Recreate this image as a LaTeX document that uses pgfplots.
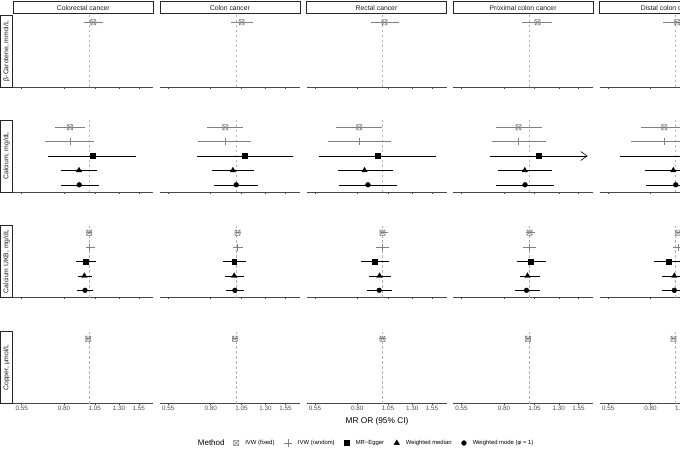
\documentclass[border=0pt]{standalone}
\usepackage{fontspec}
\setmainfont{Liberation Sans}
\usepackage{pgfplots}
\pgfplotsset{compat=1.18}
\usetikzlibrary{arrows.meta}
\definecolor{ivw}{HTML}{808080}
\definecolor{tickgray}{HTML}{4D4D4D}
\definecolor{stripgray}{HTML}{1A1A1A}

\pgfdeclareplotmark{sqx}{%
  \pgfpathrectangle{\pgfqpoint{-\pgfplotmarksize}{-\pgfplotmarksize}}{\pgfqpoint{2\pgfplotmarksize}{2\pgfplotmarksize}}%
  \pgfpathmoveto{\pgfqpoint{-\pgfplotmarksize}{-\pgfplotmarksize}}%
  \pgfpathlineto{\pgfqpoint{\pgfplotmarksize}{\pgfplotmarksize}}%
  \pgfpathmoveto{\pgfqpoint{-\pgfplotmarksize}{\pgfplotmarksize}}%
  \pgfpathlineto{\pgfqpoint{\pgfplotmarksize}{-\pgfplotmarksize}}%
  \pgfusepathqstroke}

\newcommand\tickfs{\fontsize{6.3}{7.3}\selectfont}
\newcommand\stripfs{\fontsize{6.8}{7.8}\selectfont}
\newcommand\legfs{\fontsize{5.9}{7}\selectfont}
\newcommand\titlefs{\fontsize{8.3}{9.5}\selectfont}

\pgfplotsset{
  l1/.style={ivw, line width=0.6pt},
  l2/.style={ivw, line width=0.6pt},
  l3/.style={black, line width=0.6pt},
  l4/.style={black, line width=0.6pt},
  l5/.style={black, line width=0.6pt},
  m1/.style={only marks, ivw, mark=sqx, mark size=2.6pt, mark options={line width=0.5pt, solid}},
  m2/.style={only marks, ivw, mark=+, mark size=3.6pt, mark options={line width=0.5pt, solid}},
  m3/.style={only marks, black, mark=square*, mark size=2.4pt},
  m4/.style={only marks, black, mark=triangle*, mark size=3.1pt},
  m5/.style={only marks, black, mark=*, mark size=2.4pt},
  panelax/.style={
    scale only axis, width=140pt, height=72pt, anchor=north west,
    xmin=0.5104, xmax=1.762, ymin=0.5, ymax=5.5,
    axis x line*=bottom, axis y line=none,
    x axis line style={black!72, line width=0.5pt},
    xtick={0.55,0.8,1.05,1.3,1.55}, xticklabels={},
    xtick align=outside, major tick length=1.6pt,
    every tick/.style={black!72, line width=0.5pt},
    ytick=\empty,
    xticklabel style={font=\tickfs, text=tickgray, inner sep=1.2pt},
  },
  bottomrow/.style={xticklabels={0.55,0.80,1.05,1.30,1.55}},
}

% #1 method index, #2 y position, #3 estimate, #4 lower, #5 upper
\newcommand\meth[5]{%
  \addplot[l#1, forget plot] coordinates {(#4,#2) (#5,#2)};
  \addplot[m#1, forget plot] coordinates {(#3,#2)};}
\newcommand\metharrow[5]{%
  \addplot[l#1, forget plot, -{Straight Barb[length=6.5pt, width=9pt, line width=0.6pt]}] coordinates {(#4,#2) (#5,#2)};
  \addplot[m#1, forget plot] coordinates {(#3,#2)};}
\newcommand\refline{%
  \addplot[forget plot, black!30, line width=0.5pt, dash pattern=on 2.5pt off 2.5pt] coordinates {(1,0.5) (1,5.5)};}

\begin{document}
\begin{tikzpicture}
\path[use as bounding box] (0pt,0pt) rectangle (680pt,-448pt);
\clip (0pt,0pt) rectangle (680pt,-448pt);

% ===== Column 1: Colorectal cancer =====
\begin{semilogxaxis}[panelax, at={(13.3pt,-15pt)}]
\refline
\meth{1}{5}{1.036}{0.954}{1.126}
\end{semilogxaxis}
\begin{semilogxaxis}[panelax, at={(13.3pt,-120pt)}]
\refline
\meth{1}{5}{0.843}{0.738}{0.963}
\meth{2}{4}{0.843}{0.676}{1.043}
\meth{3}{3}{1.027}{0.696}{1.508}
\meth{4}{2}{0.913}{0.778}{1.073}
\meth{5}{1}{0.915}{0.778}{1.087}
\end{semilogxaxis}
\begin{semilogxaxis}[panelax, at={(13.3pt,-225.5pt)}]
\refline
\meth{1}{5}{1.000}{0.977}{1.021}
\meth{2}{4}{1.000}{0.971}{1.052}
\meth{3}{3}{0.969}{0.889}{1.061}
\meth{4}{2}{0.957}{0.902}{1.027}
\meth{5}{1}{0.963}{0.899}{1.036}
\end{semilogxaxis}
\begin{semilogxaxis}[panelax, bottomrow, at={(13.3pt,-331.5pt)},
  legend columns=5,
  legend style={at={(1.573,-0.5486)}, anchor=west, draw=none, fill=none,
    inner sep=0pt, font=\legfs,
    /tikz/every odd column/.append style={column sep=4.4pt},
    /tikz/every even column/.append style={column sep=7.9pt}}]
\refline
\meth{1}{5}{0.991}{0.971}{1.015}
\addlegendimage{only marks, ivw, mark=sqx, mark size=2.6pt, mark options={line width=0.5pt, solid}}
\addlegendentry{IVW (fixed)}
\addlegendimage{only marks, ivw, mark=+, mark size=3.6pt, mark options={line width=0.5pt, solid}}
\addlegendentry{IVW (random)}
\addlegendimage{only marks, black, mark=square*, mark size=2.4pt}
\addlegendentry{MR−Egger}
\addlegendimage{only marks, black, mark=triangle*, mark size=3.1pt}
\addlegendentry{Weighted median}
\addlegendimage{only marks, black, mark=*, mark size=2.4pt}
\addlegendentry{Weighted mode (\textit{φ} = 1)}
\end{semilogxaxis}

% ===== Column 2: Colon cancer =====
\begin{semilogxaxis}[panelax, at={(159.9pt,-15pt)}]
\refline
\meth{1}{5}{1.052}{0.954}{1.166}
\end{semilogxaxis}
\begin{semilogxaxis}[panelax, at={(159.9pt,-120pt)}]
\refline
\meth{1}{5}{0.910}{0.776}{1.061}
\meth{2}{4}{0.910}{0.716}{1.142}
\meth{3}{3}{1.083}{0.710}{1.652}
\meth{4}{2}{0.974}{0.806}{1.176}
\meth{5}{1}{1.003}{0.823}{1.218}
\end{semilogxaxis}
\begin{semilogxaxis}[panelax, at={(159.9pt,-225.5pt)}]
\refline
\meth{1}{5}{1.015}{0.991}{1.050}
\meth{2}{4}{1.015}{0.971}{1.061}
\meth{3}{3}{0.985}{0.889}{1.092}
\meth{4}{2}{0.985}{0.907}{1.073}
\meth{5}{1}{0.991}{0.913}{1.076}
\end{semilogxaxis}
\begin{semilogxaxis}[panelax, bottomrow, at={(159.9pt,-331.5pt)}]
\refline
\meth{1}{5}{0.991}{0.962}{1.021}
\end{semilogxaxis}

% ===== Column 3: Rectal cancer =====
\begin{semilogxaxis}[panelax, at={(306.5pt,-15pt)}]
\refline
\meth{1}{5}{1.018}{0.902}{1.162}
\end{semilogxaxis}
\begin{semilogxaxis}[panelax, at={(306.5pt,-120pt)}]
\refline
\meth{1}{5}{0.814}{0.662}{0.995}
\meth{2}{4}{0.814}{0.620}{1.077}
\meth{3}{3}{0.957}{0.571}{1.604}
\meth{4}{2}{0.853}{0.672}{1.093}
\meth{5}{1}{0.879}{0.682}{1.136}
\end{semilogxaxis}
\begin{semilogxaxis}[panelax, at={(306.5pt,-225.5pt)}]
\refline
\meth{1}{5}{1.000}{0.974}{1.049}
\meth{2}{4}{1.000}{0.943}{1.061}
\meth{3}{3}{0.932}{0.828}{1.061}
\meth{4}{2}{0.974}{0.889}{1.080}
\meth{5}{1}{0.971}{0.871}{1.086}
\end{semilogxaxis}
\begin{semilogxaxis}[panelax, bottomrow, at={(306.5pt,-331.5pt)}]
\refline
\meth{1}{5}{1.000}{0.971}{1.033}
\end{semilogxaxis}

% ===== Column 4: Proximal colon cancer =====
\begin{semilogxaxis}[panelax, at={(453.1pt,-15pt)}]
\refline
\meth{1}{5}{1.077}{0.943}{1.230}
\end{semilogxaxis}
\begin{semilogxaxis}[panelax, at={(453.1pt,-120pt)}]
\refline
\meth{1}{5}{0.910}{0.745}{1.116}
\meth{2}{4}{0.910}{0.717}{1.159}
\metharrow{3}{3}{1.092}{0.706}{1.680}
\meth{4}{2}{0.963}{0.760}{1.230}
\meth{5}{1}{0.965}{0.749}{1.248}
\end{semilogxaxis}
\begin{semilogxaxis}[panelax, at={(453.1pt,-225.5pt)}]
\refline
\meth{1}{5}{1.003}{0.971}{1.051}
\meth{2}{4}{1.003}{0.948}{1.067}
\meth{3}{3}{1.015}{0.897}{1.159}
\meth{4}{2}{0.986}{0.921}{1.102}
\meth{5}{1}{0.977}{0.881}{1.102}
\end{semilogxaxis}
\begin{semilogxaxis}[panelax, bottomrow, at={(453.1pt,-331.5pt)}]
\refline
\meth{1}{5}{0.990}{0.970}{1.020}
\end{semilogxaxis}

% ===== Column 5: Distal colon cancer =====
\begin{semilogxaxis}[panelax, at={(599.7pt,-15pt)}]
\refline
\meth{1}{5}{1.014}{0.896}{1.150}
\end{semilogxaxis}
\begin{semilogxaxis}[panelax, at={(599.7pt,-120pt)}]
\refline
\meth{1}{5}{0.904}{0.736}{1.110}
\meth{2}{4}{0.904}{0.673}{1.210}
\metharrow{3}{3}{1.100}{0.611}{1.680}
\meth{4}{2}{0.979}{0.762}{1.260}
\meth{5}{1}{1.000}{0.769}{1.300}
\end{semilogxaxis}
\begin{semilogxaxis}[panelax, at={(599.7pt,-225.5pt)}]
\refline
\meth{1}{5}{1.023}{1.000}{1.050}
\meth{2}{4}{1.020}{0.980}{1.060}
\meth{3}{3}{0.937}{0.825}{1.065}
\meth{4}{2}{0.988}{0.884}{1.100}
\meth{5}{1}{0.988}{0.884}{1.100}
\end{semilogxaxis}
\begin{semilogxaxis}[panelax, bottomrow, at={(599.7pt,-331.5pt)}]
\refline
\meth{1}{5}{0.980}{0.960}{1.000}
\end{semilogxaxis}

% ===== Top strips =====
\foreach \L/\lab in {13.3/Colorectal cancer, 159.9/Colon cancer, 306.5/Rectal cancer, 453.1/Proximal colon cancer, 599.7/Distal colon cancer}{
  \draw[black!85, line width=0.5pt, fill=white] (\L pt,-1.7pt) rectangle ({\L pt+140pt},-13.3pt);
  \node[font=\stripfs, text=stripgray, inner sep=0pt] at ({\L pt+70pt},-7.6pt) {\lab};
}
% ===== Left strips =====
\foreach \T/\lab in {15/{β-Carotene, mmol/L}, 120/{Calcium, mg/dL}, 225.5/{Calcium UKB, mg/dL}, 331.5/{Copper, μmol/L}}{
  \draw[black!85, line width=0.5pt, fill=white] (0.5pt,-\T pt) rectangle (12.5pt,{-\T pt-72pt});
  \node[font=\stripfs, text=stripgray, inner sep=0pt, rotate=90] at (6.6pt,{-\T pt-36pt}) {\lab};
}

% ===== Titles =====
\node[font=\titlefs, inner sep=0pt] at (377pt,-421pt) {MR OR (95\% CI)};
\node[font=\fontsize{8}{9.5}\selectfont, inner sep=0pt, anchor=west] at (197.7pt,-443pt) {Method};
\end{tikzpicture}
\end{document}
